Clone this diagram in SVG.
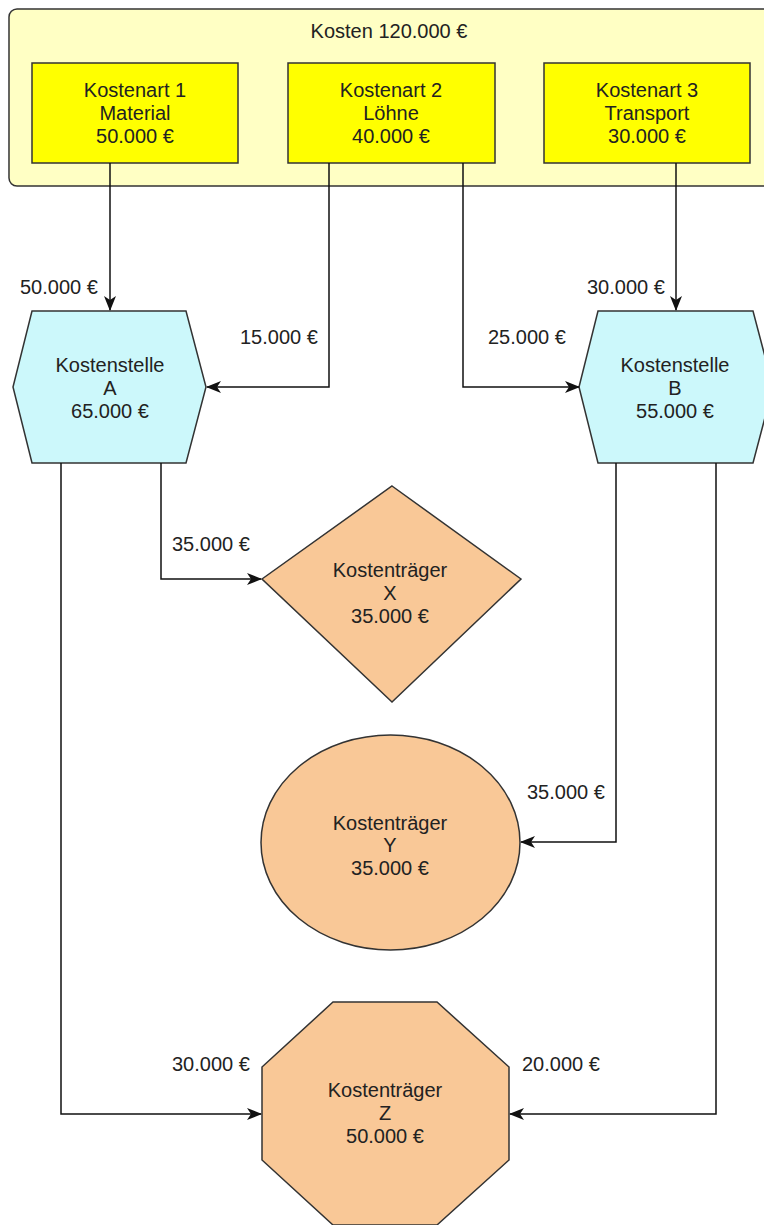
<svg xmlns="http://www.w3.org/2000/svg" width="764" height="1225" viewBox="0 0 764 1225">
<style>
text{font-family:"Liberation Sans",Arial,sans-serif;font-size:20px;fill:#222;text-anchor:middle}
.lbl{text-anchor:start}
.edge{fill:none;stroke:#111;stroke-width:1.5}
.sh{stroke:#333;stroke-width:1.5}
.ka{fill:#FFFF00}
.ks{fill:#CCF8FB}
.kt{fill:#F9C897}
</style>
<defs>
<marker id="arr" markerWidth="15" markerHeight="12" refX="14" refY="6" orient="auto" markerUnits="userSpaceOnUse">
<path d="M0,0 L15,6 L0,12 L4,6 Z" fill="#111"/>
</marker>
</defs>
<g id="kosten">
<rect x="9" y="9" width="765" height="177" rx="8" fill="#FFFFC4" class="sh"/>
<text x="389" y="38">Kosten 120.000 €</text>
</g>
<g id="kostenart1">
<rect x="32" y="63" width="206" height="100" class="ka sh"/>
<text x="135" y="97">Kostenart 1</text>
<text x="135" y="120">Material</text>
<text x="135" y="143">50.000 €</text>
</g>
<g id="kostenart2">
<rect x="288" y="63" width="207" height="100" class="ka sh"/>
<text x="391" y="97">Kostenart 2</text>
<text x="391" y="120">Löhne</text>
<text x="391" y="143">40.000 €</text>
</g>
<g id="kostenart3">
<rect x="544" y="63" width="206" height="100" class="ka sh"/>
<text x="647" y="97">Kostenart 3</text>
<text x="647" y="120">Transport</text>
<text x="647" y="143">30.000 €</text>
</g>
<g id="kostenstelleA">
<polygon points="32,311 186,311 206,387 186,463 32,463 13,387" class="ks sh"/>
<text x="110" y="372">Kostenstelle</text>
<text x="110" y="395">A</text>
<text x="110" y="418">65.000 €</text>
</g>
<g id="kostenstelleB">
<polygon points="598,311 753,311 773,387 753,463 598,463 579,387" class="ks sh"/>
<text x="675" y="372">Kostenstelle</text>
<text x="675" y="395">B</text>
<text x="675" y="418">55.000 €</text>
</g>
<g id="kostentraegerX">
<polygon points="392,486 521,579 392,702 262,579" class="kt sh"/>
<text x="390" y="577">Kostenträger</text>
<text x="390" y="600">X</text>
<text x="390" y="623">35.000 €</text>
</g>
<g id="kostentraegerY">
<ellipse cx="390.5" cy="842.5" rx="129.5" ry="107.5" class="kt sh"/>
<text x="390" y="830">Kostenträger</text>
<text x="390" y="852">Y</text>
<text x="390" y="875">35.000 €</text>
</g>
<g id="kostentraegerZ">
<polygon points="333,1002 437,1002 509,1067 509,1160 437,1225 333,1225 262,1160 262,1067" class="kt sh"/>
<text x="385" y="1097">Kostenträger</text>
<text x="385" y="1120">Z</text>
<text x="385" y="1143">50.000 €</text>
</g>
<g id="connectors">
<path class="edge" d="M110,163 V310" marker-end="url(#arr)"/>
<path class="edge" d="M329,163 V387 H207" marker-end="url(#arr)"/>
<path class="edge" d="M463,163 V387 H579" marker-end="url(#arr)"/>
<path class="edge" d="M676,163 V310" marker-end="url(#arr)"/>
<path class="edge" d="M161,463 V579 H261" marker-end="url(#arr)"/>
<path class="edge" d="M61,463 V1114 H261" marker-end="url(#arr)"/>
<path class="edge" d="M616,463 V842 H521" marker-end="url(#arr)"/>
<path class="edge" d="M716,463 V1114 H510" marker-end="url(#arr)"/>
<text class="lbl" x="20" y="294">50.000 €</text>
<text class="lbl" x="240" y="344">15.000 €</text>
<text class="lbl" x="587" y="294">30.000 €</text>
<text class="lbl" x="488" y="344">25.000 €</text>
<text class="lbl" x="172" y="551">35.000 €</text>
<text class="lbl" x="527" y="799">35.000 €</text>
<text class="lbl" x="172" y="1071">30.000 €</text>
<text class="lbl" x="522" y="1071">20.000 €</text>
</g>
</svg>
